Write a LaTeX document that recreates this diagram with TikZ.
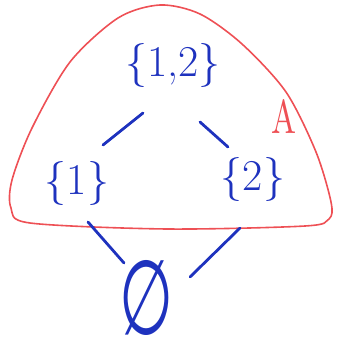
\documentclass[tikz,border=0pt]{standalone}
\usepackage{graphicx}
\usepackage{fontspec}
\newfontfamily\symfont{DejaVu Sans}
\usetikzlibrary{calc}
\definecolor{ink}{RGB}{30,50,190}
\definecolor{redink}{RGB}{238,80,85}
\tikzset{
  setlabel/.style={text=ink, inner sep=0pt, font=\fontsize{44}{44}\selectfont},
  edge/.style={draw=ink, line width=2.8pt, line cap=round},
  region/.style={draw=redink, line width=1.6pt},
}
\begin{document}
\begin{tikzpicture}[x=1pt,y=-1pt]
\useasboundingbox (0,0) rectangle (337,352);
% red region A
\draw[region] plot[smooth cycle, tension=0.5] coordinates {
  (160,5) (118,18) (70,62) (32,128) (12,180) (11,208) (30,223)
  (167,229) (305,226) (329,219) (331,202) (316,152) (286,92) (242,44) (200,14)};
\node[text=redink, inner sep=0pt] (A) at (284,116) {\resizebox{25pt}{34pt}{A}};
% sets
\node[setlabel] (n12) at (173,66) {\{1,2\}};
\node[setlabel] (n1) at (77,183) {\{1\}};
\node[setlabel] (n2) at (253,179) {\{2\}};
\node[text=ink, inner sep=0pt] (e) at (146,298) {\resizebox{54pt}{74pt}{\symfont ∅}};
% edges
\draw[edge] ($(n12)+(-30,47)$) -- ($(n1)+(26,-38)$);
\draw[edge] ($(n12)+(27,56)$) -- ($(n2)+(-25,-32)$);
\draw[edge] ($(n1)+(11,39)$) -- ($(e)+(-22,-35)$);
\draw[edge] ($(n2)+(-13,49)$) -- ($(e)+(44,-21)$);
\end{tikzpicture}
\end{document}
